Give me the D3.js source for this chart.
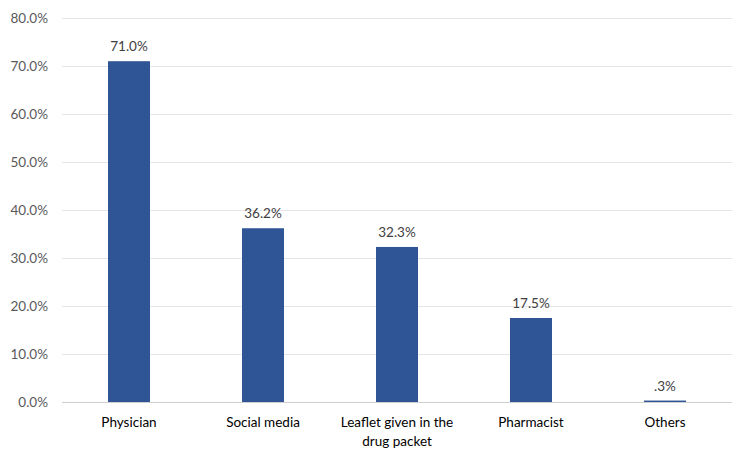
<!DOCTYPE html>
<html>
<head>
<meta charset="utf-8">
<script src="https://cdn.jsdelivr.net/npm/d3@7"></script>
<style>
  body { margin: 0; background: #fff; }
  text { font-family: Lato, "Open Sans", sans-serif; }
</style>
</head>
<body>
<div class="canvas"></div>
<script>
const categories = ['Physician', 'Social media', 'Leaflet given in the drug packet', 'Pharmacist', 'Others'];
const values = [71.0, 36.2, 32.3, 17.5, 0.3];
const valueLabels = ['71.0%', '36.2%', '32.3%', '17.5%', '.3%'];
const yTicks = [0, 10, 20, 30, 40, 50, 60, 70, 80];

// category labels broken across lines like the original
const catLines = {
    'Leaflet given in the drug packet': ['Leaflet given in the', 'drug packet']
};

const dims = { width: 750, height: 459 };
const margin = { top: 18, right: 18, bottom: 57, left: 62 };

const svg = d3.select('.canvas')
    .append('svg')
    .attr('width', dims.width)
    .attr('height', dims.height);

const x = d3.scaleBand()
    .domain(categories)
    .range([margin.left, dims.width - margin.right])
    .paddingInner(0.6866)
    .paddingOuter(0.3433);

const y = d3.scaleLinear()
    .domain([0, 80])
    .range([dims.height - margin.bottom, margin.top]);

// gridlines
svg.append('g')
    .selectAll('line')
    .data(yTicks.filter(t => t > 0))
    .enter()
    .append('line')
        .attr('x1', margin.left)
        .attr('x2', dims.width - margin.right)
        .attr('y1', d => y(d) + 0.5)
        .attr('y2', d => y(d) + 0.5)
        .attr('stroke', '#e6e6e6')
        .attr('stroke-width', 1);

// y tick labels
svg.append('g')
    .selectAll('text')
    .data(yTicks)
    .enter()
    .append('text')
        .attr('x', 48)
        .attr('y', d => y(d))
        .attr('dy', '0.35em')
        .attr('text-anchor', 'end')
        .attr('fill', '#595959')
        .style('font-size', '13.5px')
        .text(d => d3.format('.1f')(d) + '%');

// bars
svg.append('g')
    .selectAll('rect')
    .data(values)
    .enter()
    .append('rect')
        .attr('x', (d, i) => x(categories[i]))
        .attr('y', d => y(d))
        .attr('width', x.bandwidth())
        .attr('height', d => y(0) - y(d))
        .attr('fill', '#2f5597');

// x axis line
svg.append('line')
    .attr('x1', margin.left)
    .attr('x2', dims.width - margin.right)
    .attr('y1', y(0) + 0.5)
    .attr('y2', y(0) + 0.5)
    .attr('stroke', '#cfcfcf');

// value labels
svg.append('g')
    .selectAll('text')
    .data(values)
    .enter()
    .append('text')
        .attr('x', (d, i) => x(categories[i]) + x.bandwidth() / 2)
        .attr('y', d => y(d) - 10)
        .attr('text-anchor', 'middle')
        .attr('fill', '#404040')
        .style('font-size', '13.5px')
        .text((d, i) => valueLabels[i]);

// category labels
const catText = svg.append('g')
    .selectAll('text')
    .data(categories)
    .enter()
    .append('text')
        .attr('x', d => x(d) + x.bandwidth() / 2)
        .attr('y', y(0) + 25)
        .attr('text-anchor', 'middle')
        .attr('fill', '#000')
        .style('font-size', '13.5px');

catText.selectAll('tspan')
    .data(d => catLines[d] || [d])
    .enter()
    .append('tspan')
        .attr('x', function() { return d3.select(this.parentNode).attr('x'); })
        .attr('dy', (d, i) => i === 0 ? 0 : 19)
        .text(d => d);
</script>
</body>
</html>
